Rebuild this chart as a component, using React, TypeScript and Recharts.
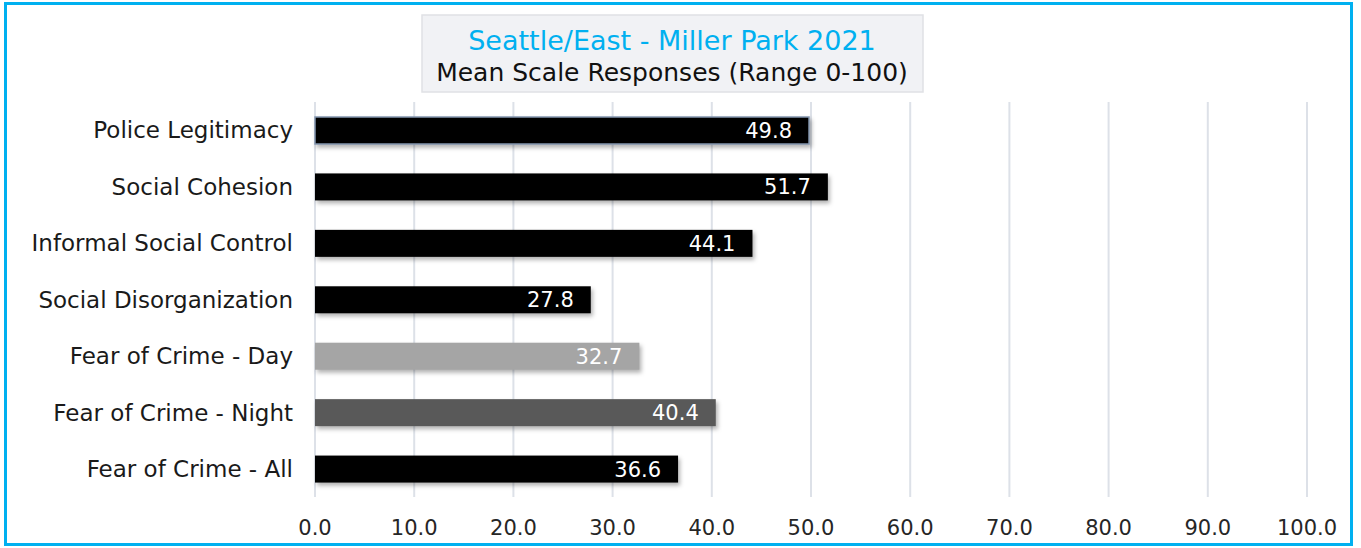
import React from "react";
import { Bar, BarChart, CartesianGrid, Cell, LabelList, XAxis, YAxis } from "recharts";

const CATEGORIES = [
  "Police Legitimacy",
  "Social Cohesion",
  "Informal Social Control",
  "Social Disorganization",
  "Fear of Crime - Day",
  "Fear of Crime - Night",
  "Fear of Crime - All",
];
const VALUES = [49.8, 51.7, 44.1, 27.8, 32.7, 40.4, 36.6];
const X_TICKS = [0, 10, 20, 30, 40, 50, 60, 70, 80, 90, 100];
const TITLE = "Seattle/East - Miller Park 2021";
const SUBTITLE = "Mean Scale Responses (Range 0-100)";

const BAR_COLORS = ["#000000", "#000000", "#000000", "#000000", "#a5a5a5", "#595959", "#000000"];
const BAR_STROKES = ["#8497b0", "none", "none", "none", "none", "none", "none"];

const data = CATEGORIES.map((name, i) => ({ name, value: VALUES[i] }));

const FONT = "'DejaVu Sans', sans-serif";

const ShadowBar = (props: any) => {
  const { x, y, width, height, fill, stroke } = props;
  return (
    <rect
      x={x}
      y={y}
      width={width}
      height={height}
      fill={fill}
      stroke={stroke}
      strokeWidth={stroke && stroke !== "none" ? 1.5 : 0}
      style={{ filter: "drop-shadow(2px 3px 2px rgba(0,0,0,0.3))" }}
    />
  );
};

export default function App() {
  return (
    <div style={{ position: "absolute", left: 0, top: 0, width: 1361, height: 548, background: "#fff", fontFamily: FONT }}>
      <div
        style={{
          position: "absolute",
          left: 4,
          top: 2,
          width: 1349,
          height: 544,
          border: "3px solid #00b0f0",
          boxSizing: "border-box",
        }}
      />
      <BarChart
        width={1361}
        height={548}
        data={data}
        layout="vertical"
        margin={{ top: 102, right: 54, bottom: 0, left: 0 }}
        barSize={27}
      >
        <CartesianGrid horizontal={false} stroke="#dde1e8" strokeWidth={2} />
        <XAxis
          type="number"
          domain={[0, 100]}
          ticks={X_TICKS}
          tickFormatter={(v: number) => v.toFixed(1)}
          axisLine={false}
          tickLine={false}
          tickSize={0}
          tickMargin={23}
          height={51}
          tick={{ fill: "#262626", fontSize: 21, fontFamily: FONT }}
        />
        <YAxis
          type="category"
          dataKey="name"
          width={315}
          axisLine={false}
          tickLine={false}
          tickSize={0}
          tickMargin={22}
          tick={{ fill: "#1a1a1a", fontSize: 23, fontFamily: FONT }}
        />
        <Bar dataKey="value" isAnimationActive={false} shape={ShadowBar}>
          {data.map((_, i) => (
            <Cell key={i} fill={BAR_COLORS[i]} stroke={BAR_STROKES[i]} />
          ))}
          <LabelList
            dataKey="value"
            position="insideRight"
            offset={17}
            formatter={(v: any) => Number(v).toFixed(1)}
            style={{ fill: "#ffffff", fontSize: 21, fontFamily: FONT }}
          />
        </Bar>
      </BarChart>
      <svg
        width={503}
        height={79}
        style={{ position: "absolute", left: 421, top: 14 }}
      >
        <rect x={1} y={1} width={501} height={77} fill="#f1f2f5" stroke="#dfe1e5" strokeWidth={1.5} />
        <text x={251} y={36} textAnchor="middle" fontSize={27} fill="#00b0f0" fontFamily={FONT}>
          {TITLE}
        </text>
        <text x={251} y={67} textAnchor="middle" fontSize={25} fill="#111111" fontFamily={FONT}>
          {SUBTITLE}
        </text>
      </svg>
    </div>
  );
}
